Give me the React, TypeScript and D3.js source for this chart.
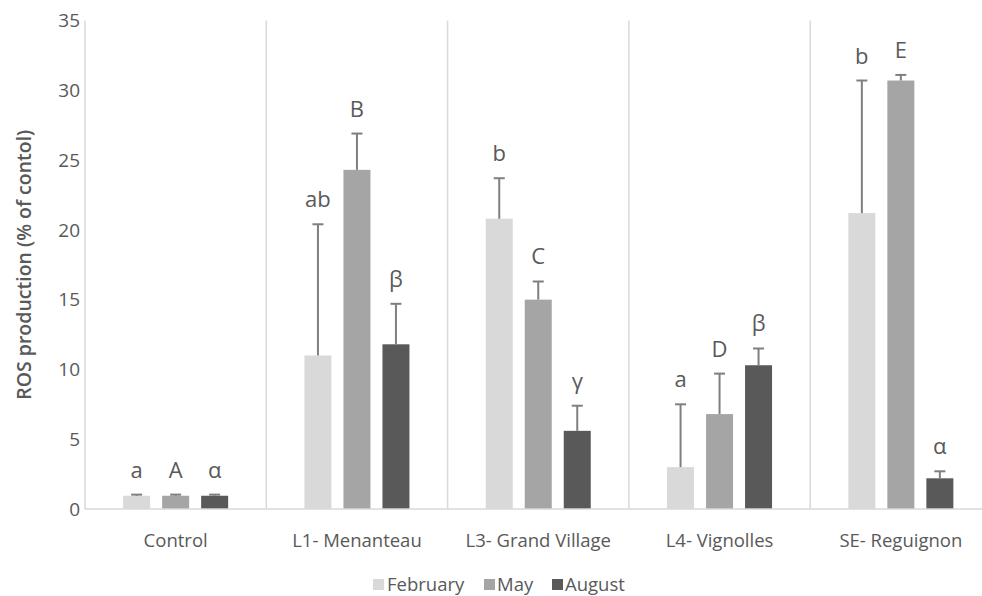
import React from "react";
import * as d3 from "d3";

const categories = ["Control", "L1- Menanteau", "L3- Grand Village", "L4- Vignolles", "SE- Reguignon"];
const seriesNames = ["February", "May", "August"];
const seriesColors = ["#d9d9d9", "#a5a5a5", "#595959"];
const februaryValues = [0.95, 11.0, 20.8, 3.0, 21.2];
const mayValues = [0.95, 24.3, 15.0, 6.8, 30.7];
const augustValues = [0.95, 11.8, 5.6, 10.3, 2.2];
const februaryErrors = [0.08, 9.4, 2.9, 4.5, 9.5];
const mayErrors = [0.08, 2.6, 1.3, 2.9, 0.4];
const augustErrors = [0.08, 2.9, 1.8, 1.2, 0.5];
const februaryLetters = ["a", "ab", "b", "a", "b"];
const mayLetters = ["A", "B", "C", "D", "E"];
const augustLetters = ["α", "β", "γ", "β", "α"];
const yTicks = [0, 5, 10, 15, 20, 25, 30, 35];

const W = 982;
const H = 596;
const left = 85;
const top = 20.5;
const bottom = 509;
const catWidth = 181.3;
const FONT = "'Open Sans', sans-serif";
const TEXT = "#595959";

export default function App() {
  const x = d3
    .scaleBand<string>()
    .domain(categories)
    .range([left, left + catWidth * categories.length])
    .padding(0);
  const inner = d3
    .scaleBand<string>()
    .domain(seriesNames)
    .range([-52.5, 52.5])
    .paddingInner(0.3077)
    .paddingOuter(0);
  const y = d3.scaleLinear().domain([0, 35]).range([bottom, top]);

  const values = [februaryValues, mayValues, augustValues];
  const errors = [februaryErrors, mayErrors, augustErrors];
  const letters = [februaryLetters, mayLetters, augustLetters];
  const bw = inner.bandwidth();

  const legendItems = [
    { name: "February", sx: 373, tx: 387 },
    { name: "May", sx: 484, tx: 497 },
    { name: "August", sx: 552, tx: 565 },
  ];

  return (
    <svg
      width={W}
      height={H}
      style={{ position: "fixed", left: 0, top: 0, background: "#fff" }}
      fontFamily={FONT}
    >
      <rect x={0} y={0} width={W} height={H} fill="#fff" />
      {categories.slice(1).map((c) => (
        <line
          key={"sep" + c}
          x1={x(c)!}
          x2={x(c)!}
          y1={top}
          y2={bottom}
          stroke="#d9d9d9"
          strokeWidth={1.5}
        />
      ))}
      <line x1={left} x2={left} y1={top} y2={bottom} stroke="#d9d9d9" strokeWidth={1.5} />
      {seriesNames.map((s, si) =>
        categories.map((c, ci) => {
          const cx = x(c)! + x.bandwidth() / 2;
          const bx = cx + inner(s)!;
          const v = values[si][ci];
          const e = errors[si][ci];
          const mid = bx + bw / 2;
          return (
            <g key={s + c}>
              <rect x={bx} y={y(v)} width={bw} height={y(0) - y(v)} fill={seriesColors[si]} />
              <line x1={mid} x2={mid} y1={y(v)} y2={y(v + e)} stroke="#7f7f7f" strokeWidth={2} />
              <line x1={mid - 5.5} x2={mid + 5.5} y1={y(v + e)} y2={y(v + e)} stroke="#7f7f7f" strokeWidth={2} />
              <text
                x={mid}
                y={y(v + e) - 17}
                textAnchor="middle"
                fontSize={22}
                fill={TEXT}
              >
                {letters[si][ci]}
              </text>
            </g>
          );
        })
      )}
      <line x1={left} x2={W} y1={bottom} y2={bottom} stroke="#d9d9d9" strokeWidth={1.5} />
      {yTicks.map((t) => (
        <text
          key={"yt" + t}
          x={80}
          y={y(t)}
          dy="0.35em"
          textAnchor="end"
          fontSize={19}
          fill={TEXT}
        >
          {t}
        </text>
      ))}
      {categories.map((c) => (
        <text
          key={"cl" + c}
          x={x(c)! + x.bandwidth() / 2}
          y={541}
          dy="0.35em"
          textAnchor="middle"
          fontSize={18.5}
          fill={TEXT}
        >
          {c}
        </text>
      ))}
      <text
        transform={`translate(24, ${(top + bottom) / 2}) rotate(-90)`}
        textAnchor="middle"
        dy="0.35em"
        fontSize={19.5}
        fontWeight={600}
        fill={TEXT}
      >
        ROS production (% of contol)
      </text>
      {legendItems.map((l, i) => (
        <g key={"lg" + l.name}>
          <rect x={l.sx} y={579} width={11} height={11} fill={seriesColors[i]} />
          <text x={l.tx} y={585} dy="0.35em" fontSize={18.5} fill={TEXT}>
            {l.name}
          </text>
        </g>
      ))}
    </svg>
  );
}
